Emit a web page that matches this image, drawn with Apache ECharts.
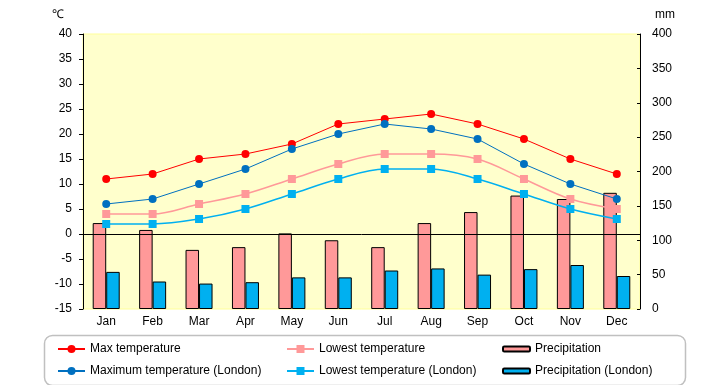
<!DOCTYPE html>
<html><head><meta charset="utf-8">
<script src="https://cdn.jsdelivr.net/npm/echarts@6/dist/echarts.min.js"></script>
<style>html,body{margin:0;padding:0;background:#fff}#c{width:720px;height:385px}</style>
</head><body><div id="c"></div>
<script>
const months = ['Jan','Feb','Mar','Apr','May','Jun','Jul','Aug','Sep','Oct','Nov','Dec'];
const maxTemp = [11,12,15,16,18,22,23,24,22,19,15,12];
const maxTempLondon = [6,7,10,13,17,20,22,21,19,14,10,7];
const lowTemp = [4,4,6,8,11,14,16,16,15,11,7,5];
const lowTempLondon = [2,2,3,5,8,11,13,13,11,8,5,3];
const precip = [125,115,86,90,110,100,90,125,141,165,160,169];
const precipLondon = [54,40,37,39,46,46,56,59,50,58,64,48];
const tempTicks = {min:-15, max:40, interval:5};
const precipTicks = {min:0, max:400, interval:50};

const FONT = 'Liberation Sans';
const chart = echarts.init(document.getElementById('c'), null, {renderer:'canvas'});
const txt = {fontFamily: FONT, fontSize: 12, color: '#000'};
chart.setOption({
  animation: false,
  textStyle: {fontFamily: FONT},
  grid: {left: 83, right: 80, top: 34, bottom: 76, show: true, backgroundColor: '#FFFFCC', borderColor: '#FFFF99', borderWidth: 1},
  xAxis: {
    type: 'category', data: months,
    axisLine: {show: false},
    axisTick: {show: false},
    axisLabel: Object.assign({margin: 7}, txt)
  },
  yAxis: [
    {type: 'value', min: tempTicks.min, max: tempTicks.max, interval: tempTicks.interval, position: 'left',
     axisLine: {show: true, lineStyle: {color: '#000', width: 1}},
     axisTick: {show: true, length: 4, lineStyle: {color: '#000'}},
     splitLine: {show: false},
     axisLabel: Object.assign({margin: 11}, txt)},
    {type: 'value', min: precipTicks.min, max: precipTicks.max, interval: precipTicks.interval, position: 'right',
     axisLine: {show: true, lineStyle: {color: '#000', width: 1}},
     axisTick: {show: true, inside: true, length: 3, lineStyle: {color: '#000'}},
     splitLine: {show: false},
     axisLabel: Object.assign({margin: 12}, txt)}
  ],
  legend: [
    {data: ['Max temperature', 'Maximum temperature (London)'], orient: 'vertical', left: 52, top: 338,
     itemWidth: 27, itemHeight: 10, itemGap: 10, selectedMode: false, textStyle: txt},
    {data: ['Lowest temperature', 'Lowest temperature (London)'], orient: 'vertical', left: 281, top: 338,
     itemWidth: 27, itemHeight: 10, itemGap: 10, selectedMode: false, textStyle: txt},
    {data: ['Precipitation', 'Precipitation (London)'], orient: 'vertical', left: 497, top: 338,
     itemWidth: 27, itemHeight: 5, itemGap: 10, selectedMode: false, textStyle: txt}
  ],
  graphic: [
    {type: 'rect', left: 42, top: 333, shape: {width: 641, height: 50, r: 8}, style: {fill: 'none', stroke: '#c0c0c0', lineWidth: 1.5}, z: -1},
    {type: 'text', left: 52, top: 9, style: {text: '℃', font: '12px ' + FONT, fill: '#000'}},
    {type: 'text', left: 655, top: 9, style: {text: 'mm', font: '12px ' + FONT, fill: '#000'}}
  ],
  series: [
    {name: 'Precipitation', type: 'bar', yAxisIndex: 1, data: precip, barWidth: 13.5, barGap: '0%',
     itemStyle: {color: '#FF9999', borderColor: '#000', borderWidth: 1}, z: 1},
    {name: 'Precipitation (London)', type: 'bar', yAxisIndex: 1, data: precipLondon, barWidth: 13.5, barGap: '0%',
     itemStyle: {color: '#00B0F0', borderColor: '#000', borderWidth: 1}, z: 1},
    {name: 'Max temperature', type: 'line', data: maxTemp, symbol: 'circle', symbolSize: 8,
     lineStyle: {color: '#FF0000', width: 1}, itemStyle: {color: '#FF0000'}, z: 5,
     markLine: {silent: true, symbol: 'none', label: {show: false}, lineStyle: {color: '#000', width: 1, type: 'solid'}, data: [{yAxis: 0}], z: 3}},
    {name: 'Maximum temperature (London)', type: 'line', data: maxTempLondon, symbol: 'circle', symbolSize: 8,
     lineStyle: {color: '#0070C0', width: 1}, itemStyle: {color: '#0070C0'}, z: 5},
    {name: 'Lowest temperature', type: 'line', data: lowTemp, symbol: 'rect', symbolSize: 8, smooth: 0.35,
     lineStyle: {color: '#FF9999', width: 1.5}, itemStyle: {color: '#FF9999'}, z: 4},
    {name: 'Lowest temperature (London)', type: 'line', data: lowTempLondon, symbol: 'rect', symbolSize: 8, smooth: 0.35,
     lineStyle: {color: '#00B0F0', width: 1.5}, itemStyle: {color: '#00B0F0'}, z: 4}
  ]
});
</script></body></html>
